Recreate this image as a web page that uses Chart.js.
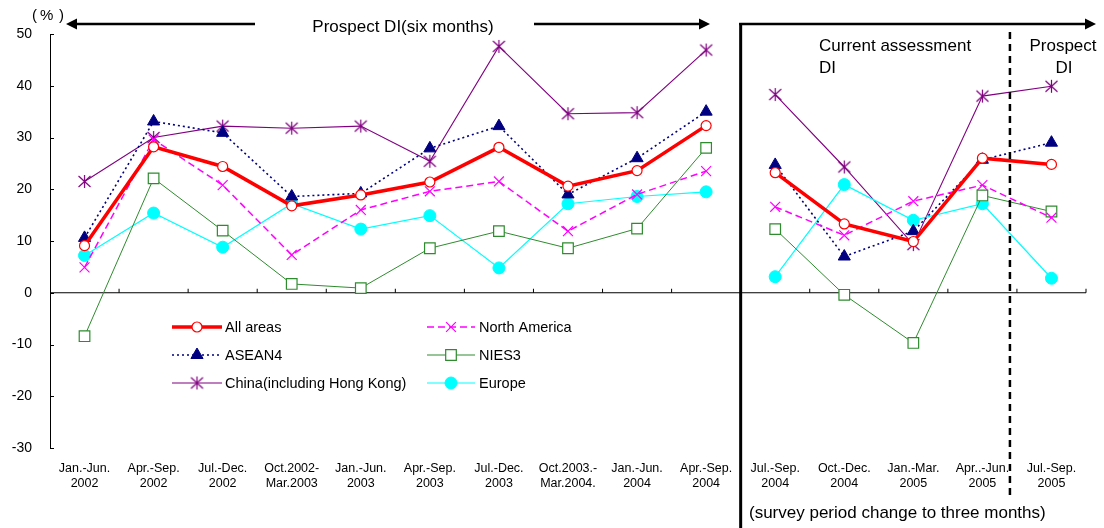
<!DOCTYPE html>
<html>
<head>
<meta charset="utf-8">
<script src="https://cdn.jsdelivr.net/npm/chart.js@4.4.0/dist/chart.umd.min.js"></script>
<style>
  html, body { margin: 0; padding: 0; background: #fff; }
</style>
</head>
<body>
<canvas id="chart" width="1104" height="528"></canvas>
<script>
// categories: 10 half-year periods, then 5 quarters
const categories = [
  ["Jan.-Jun.", "2002"], ["Apr.-Sep.", "2002"], ["Jul.-Dec.", "2002"], ["Oct.2002-", "Mar.2003"],
  ["Jan.-Jun.", "2003"], ["Apr.-Sep.", "2003"], ["Jul.-Dec.", "2003"], ["Oct.2003.-", "Mar.2004."],
  ["Jan.-Jun.", "2004"], ["Apr.-Sep.", "2004"],
  ["Jul.-Sep.", "2004"], ["Oct.-Dec.", "2004"], ["Jan.-Mar.", "2005"], ["Apr..-Jun.", "2005"], ["Jul.-Sep.", "2005"]
];
const splitAt = 10; // first quarterly period

const allAreas     = [9.1, 28.2, 24.4, 16.8, 18.9, 21.4, 28.1, 20.6, 23.6, 32.3, 23.2, 13.3, 9.9, 26.0, 24.8];
const asean4       = [10.6, 33.1, 30.9, 18.6, 19.2, 27.9, 32.2, 19.0, 26.0, 35.0, 24.7, 7.0, 11.9, 25.7, 29.0];
const china        = [21.5, 30.0, 32.2, 31.8, 32.2, 25.4, 47.6, 34.6, 34.8, 46.9, 38.3, 24.3, 9.3, 38.0, 39.9];
const northAmerica = [4.9, 29.6, 20.8, 7.3, 16.0, 19.6, 21.5, 11.9, 19.0, 23.5, 16.6, 11.1, 17.7, 20.8, 14.5];
const nies3        = [-8.4, 22.1, 12.0, 1.7, 0.9, 8.6, 11.9, 8.6, 12.4, 28.0, 12.3, -0.4, -9.7, 18.8, 15.7];
const europe       = [7.2, 15.4, 8.8, 17.2, 12.3, 14.9, 4.8, 17.2, 18.6, 19.5, 3.1, 20.9, 14.0, 17.2, 2.8];

const yMin = -30, yMax = 50, yStep = 10;

const FONT = "'Liberation Sans', Arial, sans-serif";

function makeAsterisk(color) {
  const c = document.createElement("canvas");
  c.width = 15; c.height = 15;
  const g = c.getContext("2d");
  g.strokeStyle = color;
  g.lineWidth = 1.2;
  g.beginPath();
  g.moveTo(7.5, 1); g.lineTo(7.5, 14);
  g.moveTo(1.5, 2); g.lineTo(13.5, 13);
  g.moveTo(13.5, 2); g.lineTo(1.5, 13);
  g.stroke();
  return c;
}
const asterisk = makeAsterisk("#800080");

const series = [
  { label: "All areas", values: allAreas, order: 0,
    style: { borderColor: "#ff0000", borderWidth: 3.5, pointStyle: "circle", pointRadius: 5,
             pointBackgroundColor: "#ffffff", pointBorderColor: "#ff0000", pointBorderWidth: 1.2 } },
  { label: "ASEAN4", values: asean4, order: 2,
    style: { borderColor: "#000080", borderWidth: 1.6, borderDash: [2, 3], pointStyle: "triangle", pointRadius: 7,
             pointBackgroundColor: "#000080", pointBorderColor: "#000080", pointBorderWidth: 1 } },
  { label: "China(including Hong Kong)", values: china, order: 5,
    style: { borderColor: "#800080", borderWidth: 1.1, pointStyle: asterisk, pointRadius: 6,
             pointBackgroundColor: "#800080", pointBorderColor: "#800080" } },
  { label: "North America", values: northAmerica, order: 1,
    style: { borderColor: "#ff00ff", borderWidth: 1.5, borderDash: [7, 4], pointStyle: "crossRot", pointRadius: 7,
             pointBackgroundColor: "#ff00ff", pointBorderColor: "#ff00ff", pointBorderWidth: 1.2 } },
  { label: "NIES3", values: nies3, order: 3,
    style: { borderColor: "#2e8b2e", borderWidth: 1, pointStyle: "rect", pointRadius: 7.5,
             pointBackgroundColor: "#ffffff", pointBorderColor: "#2e8b2e", pointBorderWidth: 1.2 } },
  { label: "Europe", values: europe, order: 4,
    style: { borderColor: "#00ffff", borderWidth: 1.2, pointStyle: "circle", pointRadius: 6,
             pointBackgroundColor: "#00ffff", pointBorderColor: "#00ffff", pointBorderWidth: 1 } }
];

// two datasets per series so the lines break at the survey change
const datasets = [];
series.forEach(s => {
  const left = s.values.map((v, i) => (i < splitAt ? v : null));
  const right = s.values.map((v, i) => (i >= splitAt ? v : null));
  datasets.push(Object.assign({ label: s.label, data: left, order: s.order, fill: false, tension: 0 }, s.style));
  datasets.push(Object.assign({ label: s.label, data: right, order: s.order, fill: false, tension: 0 }, s.style));
});

function arrow(ctx, from, tip, y) {
  const dir = tip > from ? 1 : -1;
  ctx.beginPath();
  ctx.moveTo(from, y);
  ctx.lineTo(tip - dir * 9, y);
  ctx.stroke();
  ctx.beginPath();
  ctx.moveTo(tip, y);
  ctx.lineTo(tip - dir * 11, y - 5.5);
  ctx.lineTo(tip - dir * 11, y + 5.5);
  ctx.closePath();
  ctx.fill();
}

function marker(ctx, s, x, y) {
  const st = s.style;
  ctx.save();
  ctx.setLineDash([]);
  ctx.lineWidth = st.pointBorderWidth || 1;
  ctx.strokeStyle = st.pointBorderColor;
  ctx.fillStyle = st.pointBackgroundColor;
  const r = st.pointRadius;
  if (st.pointStyle === "circle") {
    ctx.beginPath(); ctx.arc(x, y, r, 0, Math.PI * 2); ctx.fill(); ctx.stroke();
  } else if (st.pointStyle === "triangle") {
    ctx.beginPath(); ctx.moveTo(x, y - r); ctx.lineTo(x + r * 0.87, y + r * 0.5); ctx.lineTo(x - r * 0.87, y + r * 0.5);
    ctx.closePath(); ctx.fill(); ctx.stroke();
  } else if (st.pointStyle === "crossRot") {
    const d = r * 0.7;
    ctx.beginPath(); ctx.moveTo(x - d, y - d); ctx.lineTo(x + d, y + d); ctx.moveTo(x + d, y - d); ctx.lineTo(x - d, y + d); ctx.stroke();
  } else if (st.pointStyle === "rect") {
    const d = r * Math.SQRT1_2;
    ctx.beginPath(); ctx.rect(x - d, y - d, 2 * d, 2 * d); ctx.fill(); ctx.stroke();
  } else {
    ctx.drawImage(st.pointStyle, x - st.pointStyle.width / 2, y - st.pointStyle.height / 2);
  }
  ctx.restore();
}

const decor = {
  id: "decor",
  beforeDatasetsDraw(chart) {
    const ctx = chart.ctx, x = chart.scales.x, y = chart.scales.y;
    const area = chart.chartArea;
    const y0 = y.getPixelForValue(0);
    ctx.save();
    ctx.strokeStyle = "#000";
    ctx.lineWidth = 1;
    // zero line with category tick marks
    ctx.beginPath();
    ctx.moveTo(area.left, y0); ctx.lineTo(area.right, y0);
    const w = x.getPixelForValue(1) - x.getPixelForValue(0);
    for (let i = 0; i < categories.length; i++) {
      const bx = x.getPixelForValue(i) + w / 2;
      ctx.moveTo(bx, y0); ctx.lineTo(bx, y0 - 4);
    }
    // inward y tick marks
    for (let v = yMin; v <= yMax; v += yStep) {
      const py = Math.round(y.getPixelForValue(v)) + 0.5;
      ctx.moveTo(area.left, py); ctx.lineTo(area.left + 4, py);
    }
    ctx.stroke();
    ctx.restore();
  },
  afterDraw(chart) {
    const ctx = chart.ctx, x = chart.scales.x;
    const w = x.getPixelForValue(1) - x.getPixelForValue(0);
    const sepX = x.getPixelForValue(splitAt - 1) + w / 2;
    const dashX = x.getPixelForValue(categories.length - 2) + w / 2 - 7;
    ctx.save();
    ctx.fillStyle = "#000";
    ctx.strokeStyle = "#000";

    // separator between survey periods
    ctx.lineWidth = 3;
    ctx.beginPath(); ctx.moveTo(sepX, 23); ctx.lineTo(sepX, 528); ctx.stroke();

    // arrows
    ctx.lineWidth = 2.5;
    arrow(ctx, 255, 66, 24);
    arrow(ctx, 534, 710, 24);
    ctx.beginPath(); ctx.moveTo(sepX - 1.5, 24); ctx.lineTo(sepX, 24); ctx.stroke();
    arrow(ctx, sepX, 1096, 24);

    // dashed divider current / prospect
    ctx.lineWidth = 2.5;
    ctx.setLineDash([7, 5]);
    ctx.beginPath(); ctx.moveTo(dashX, 32); ctx.lineTo(dashX, 500); ctx.stroke();
    ctx.setLineDash([]);

    // texts
    ctx.font = "17px " + FONT;
    ctx.textBaseline = "middle";
    ctx.textAlign = "center";
    ctx.fillText("Prospect DI(six months)", 403, 27);
    ctx.fillText("Prospect", 1063, 46);
    ctx.fillText("DI", 1064, 68);
    ctx.textAlign = "left";
    ctx.fillText("Current assessment", 819, 46);
    ctx.fillText("DI", 819, 68);
    ctx.fillText("(survey period change to three months)", 749, 513);
    ctx.font = "15px " + FONT;
    ctx.fillText("(", 32, 16);
    ctx.fillText("%", 40, 16);
    ctx.fillText(")", 59, 16);

    // legend inside the plot
    const cols = [{ x0: 172, x1: 222, tx: 225 }, { x0: 427, x1: 475, tx: 479 }];
    const rows = [327, 355, 383];
    const legendOrder = [[0, 1, 2], [3, 4, 5]];
    ctx.font = "14.5px " + FONT;
    ctx.textBaseline = "middle";
    legendOrder.forEach((col, ci) => {
      col.forEach((si, ri) => {
        const s = series[si], st = s.style, ly = rows[ri], c = cols[ci];
        ctx.save();
        ctx.strokeStyle = st.borderColor;
        ctx.lineWidth = st.borderWidth;
        ctx.setLineDash(st.borderDash || []);
        ctx.beginPath(); ctx.moveTo(c.x0, ly); ctx.lineTo(c.x1, ly); ctx.stroke();
        ctx.restore();
        marker(ctx, s, (c.x0 + c.x1) / 2, ly);
        ctx.fillStyle = "#000";
        ctx.fillText(s.label, c.tx, ly + 1);
      });
    });
    ctx.restore();
  }
};

new Chart(document.getElementById("chart"), {
  type: "line",
  data: { labels: categories, datasets: datasets },
  options: {
    responsive: false,
    animation: false,
    spanGaps: false,
    layout: { padding: { top: 34, right: 18, left: 0, bottom: 0 } },
    plugins: { legend: { display: false }, tooltip: { enabled: false } },
    scales: {
      x: {
        offset: true,
        grid: { display: false },
        border: { display: false },
        ticks: {
          autoSkip: false, maxRotation: 0, padding: 5, color: "#000",
          font: { family: FONT, size: 12.5, lineHeight: "15px" }
        },
        afterFit(scale) { scale.height = 80; }
      },
      y: {
        min: yMin, max: yMax,
        grid: { display: false },
        border: { display: true, color: "#000", width: 1 },
        ticks: {
          stepSize: yStep, padding: 10, color: "#000",
          font: { family: FONT, size: 14 }
        },
        afterFit(scale) { scale.width = 50; }
      }
    }
  },
  plugins: [decor]
});
</script>
</body>
</html>
